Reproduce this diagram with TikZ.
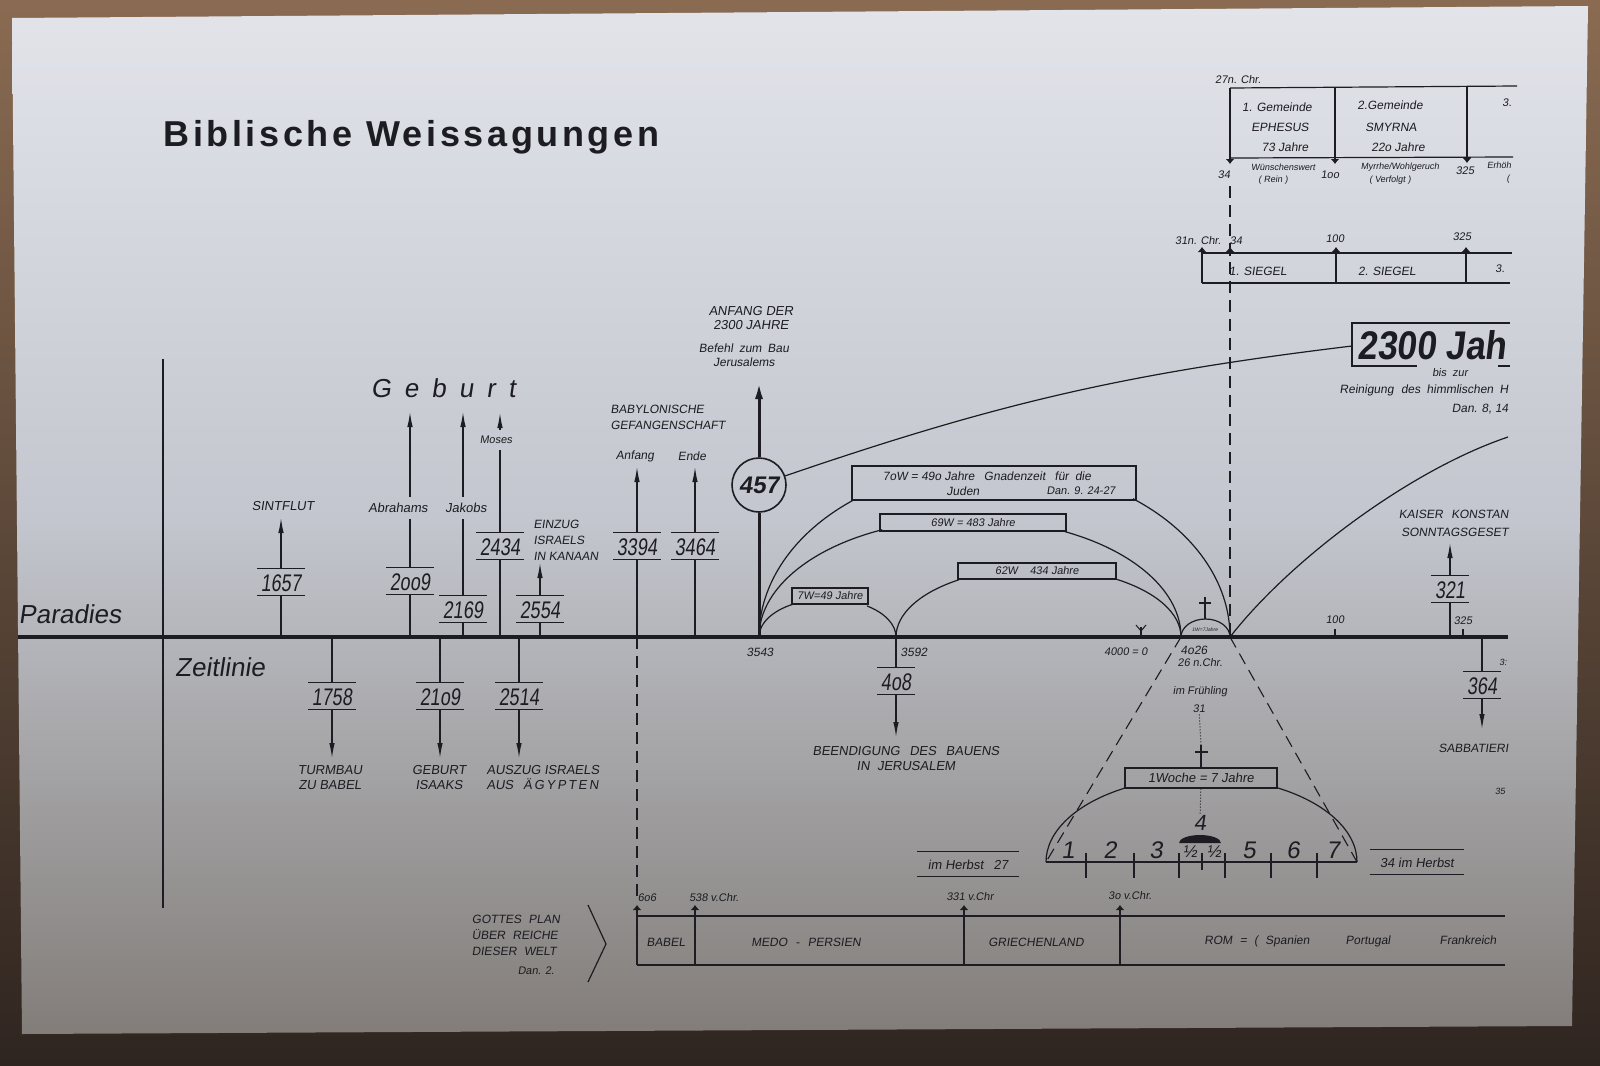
\documentclass[tikz,border=0pt]{standalone}
\usepackage{fontspec}
\setmainfont{Liberation Sans}
\newfontfamily\hand{Liberation Sans}[FakeSlant=0.15]
\newfontfamily\handn{Liberation Sans}[FakeSlant=0.12,FakeStretch=0.75]
\newfontfamily\handb{Liberation Sans}[FakeSlant=0.12,FakeStretch=0.88]
\newfontfamily\ttlfont{Liberation Sans}[LetterSpace=10]
\usetikzlibrary{arrows.meta}
\newcommand\fsz[2]{\fontsize{#1}{#2}\selectfont}
\definecolor{ink}{HTML}{1C1C22}
\definecolor{papertop}{HTML}{E2E4EA}
\definecolor{papermid}{HTML}{C3C6CE}
\definecolor{paperbot}{HTML}{827D79}
\definecolor{bgtop}{HTML}{8A6B52}
\definecolor{bgbot}{HTML}{2F2520}
\tikzset{
  lbl/.style={font=\hand\fsz{13}{15}, inner sep=1pt, align=center, text=ink},
  sml/.style={font=\hand\fsz{11}{13}, inner sep=1pt, align=center, text=ink},
  tinylbl/.style={font=\hand\fsz{9}{10}, inner sep=0.5pt, align=center, text=ink},
  gap/.style={inner ysep=6pt},
  numbox/.style={font=\handn\fsz{24}{24}, text=ink, inner xsep=3pt, inner ysep=3.5pt, text height=18pt, text depth=0pt,
     append after command={(\tikzlastnode.north west) edge[draw=ink,line width=1.1pt] (\tikzlastnode.north east)
                           (\tikzlastnode.south west) edge[draw=ink,line width=1.1pt] (\tikzlastnode.south east)}},
  wbox/.style={draw=ink, line width=1.2pt, inner sep=0pt, font=\hand\fsz{11}{11}},
  arr/.style={-{Latex[length=15pt,width=5.5pt]}},
  sarr/.style={-{Latex[length=5pt,width=9pt]}},
  dashln/.style={draw=ink, line width=1.1pt, dash pattern=on 12pt off 7pt},
}
\begin{document}
\begin{tikzpicture}[x=1pt,y=-1pt,line width=1.2pt,draw=ink,color=ink]
\useasboundingbox (0,0) rectangle (1600,1065);
% background and paper
\shade[top color=bgtop, bottom color=bgbot] (0,0) rectangle (1600,1065);
\shade[top color=papertop, bottom color=paperbot, middle color=papermid] (12,18) -- (1588,6) -- (1572,1026) -- (22,1034) -- cycle;

% title
\node[font=\ttlfont\bfseries\fsz{36}{36}, anchor=west, inner sep=0] (title) at (163,137) {Biblische Weissagungen};

% main axes
\coordinate (tlL) at (18,637); \coordinate (tlR) at (1508,637);
\draw[line width=3.6pt] (tlL) -- (tlR);
\coordinate (vT) at (163,359); \coordinate (vB) at (163,908);
\draw[line width=1.6pt] (vT) -- (vB);
\node[font=\hand\fsz{26}{26}, anchor=west, inner sep=0] (parad) at (18,614) {Paradies};
\node[font=\hand\fsz{26}{26}, inner sep=0] (zeit) at (220,667) {Zeitlinie};

% Geburt
\node[font=\hand\fsz{26}{26}] (geb) at (443,388) {G\hspace{13pt}e\hspace{13pt}b\hspace{13pt}u\hspace{13pt}r\hspace{13pt}t};

% Sintflut
\coordinate (t1657) at (281,637);
\node[numbox] (n1657) at (281,582) {1657};
\coordinate (a1657) at (281,518);
\node[lbl] (l1657) at (283,506) {SINTFLUT};
\draw (t1657) -- (n1657);
\draw[arr] (n1657) -- (a1657);

% Abrahams
\coordinate (t2009) at (410,637);
\node[numbox] (n2009) at (410,581) {2oo9};
\node[lbl,gap] (l2009) at (398,508) {Abrahams};
\coordinate (a2009) at (410,412);
\draw (t2009) -- (n2009);
\draw (n2009) -- (n2009 |- l2009.south);
\draw[arr] (n2009 |- l2009.north) -- (a2009);

% Jakobs
\coordinate (t2169) at (463,637);
\node[numbox] (n2169) at (463,609) {2169};
\node[lbl,gap] (l2169) at (466,508) {Jakobs};
\coordinate (a2169) at (463,412);
\draw (t2169) -- (n2169);
\draw (n2169) -- (n2169 |- l2169.south);
\draw[arr] (n2169 |- l2169.north) -- (a2169);

% Moses
\coordinate (t2434) at (500,637);
\node[numbox] (n2434) at (500,546) {2434};
\node[sml,gap] (l2434) at (496,440) {Moses};
\coordinate (a2434) at (500,413);
\draw (t2434) -- (n2434);
\draw (n2434) -- (n2434 |- l2434.south);
\draw[arr] (n2434 |- l2434.north) -- (a2434);

% Einzug
\coordinate (t2554) at (540,637);
\node[numbox] (n2554) at (540,609) {2554};
\coordinate (a2554) at (540,563);
\draw (t2554) -- (n2554);
\draw[arr] (n2554) -- (a2554);
\node[lbl, font=\hand\fsz{12}{16}, align=left, anchor=west] (l2554) at (532,540) {EINZUG\\ISRAELS\\IN KANAAN};

% below the line
\coordinate (t1758) at (332,637);
\node[numbox] (n1758) at (332,696) {1758};
\coordinate (a1758) at (332,758);
\draw (t1758) -- (n1758);
\draw[arr] (n1758) -- (a1758);
\node[lbl] (l1758) at (330,778) {TURMBAU\\ZU BABEL};

\coordinate (t2109) at (440,637);
\node[numbox] (n2109) at (440,696) {21o9};
\coordinate (a2109) at (440,758);
\draw (t2109) -- (n2109);
\draw[arr] (n2109) -- (a2109);
\node[lbl] (l2109) at (439,778) {GEBURT\\ISAAKS};

\coordinate (t2514) at (519,637);
\node[numbox] (n2514) at (519,696) {2514};
\coordinate (a2514) at (519,758);
\draw (t2514) -- (n2514);
\draw[arr] (n2514) -- (a2514);
\node[lbl, align=left, anchor=west] (l2514) at (485,778) {AUSZUG ISRAELS\\AUS\hspace{10pt}Ä\,G\,Y\,P\,T\,E\,N};

% Babylon
\node[lbl, font=\hand\fsz{12}{16}, align=left, anchor=west] (lBab) at (609,417) {BABYLONISCHE\\GEFANGENSCHAFT};
\coordinate (t3394) at (637,637);
\node[numbox] (n3394) at (637,546) {3394};
\coordinate (a3394) at (637,467);
\node[sml, font=\hand\fsz{12}{12}] (lAnfang) at (635,456) {Anfang};
\draw (t3394) -- (n3394);
\draw[arr] (n3394) -- (a3394);
\coordinate (t3464) at (695,637);
\node[numbox] (n3464) at (695,546) {3464};
\coordinate (a3464) at (695,467);
\node[sml, font=\hand\fsz{12}{12}] (lEnde) at (692,456) {Ende};
\draw (t3464) -- (n3464);
\draw[arr] (n3464) -- (a3464);

% 457
\coordinate (t3543) at (759,637);
\node[circle, draw=ink, line width=1.6pt, minimum size=54pt, inner sep=0pt, font=\hand\bfseries\fsz{24}{24}] (c457) at (759,485) {457};
\coordinate (a457) at (759,382);
\draw[line width=3pt] (t3543) -- (c457);
\draw[line width=3pt, -{Latex[length=17pt,width=8pt]}] (c457) -- (a457);
\node[lbl, font=\hand\fsz{13}{14}] (lAnf) at (751,318) {ANFANG DER\\2300 JAHRE};
\node[lbl, font=\hand\fsz{12}{14}] (lBef) at (744,355) {Befehl\hspace{6pt}zum\hspace{6pt}Bau\\Jerusalems};

% 2300 box
\node[font=\handb\bfseries\fsz{40}{40}, anchor=west, inner sep=0pt] (n2300) at (1357,345) {2300 Jah};
\draw (1510,323) -- (1352,323) -- (1352,366) -- (1417,366);
\draw (1498,366) -- (1510,366);
\coordinate (k2300) at (1352,346);
\draw (c457) to[bend left=6] (k2300);
\node[sml] (lbis) at (1450,373) {bis\hspace{6pt}zur};
\node[lbl, font=\hand\fsz{12}{12}, anchor=east] (lRein) at (1510,390) {Reinigung\hspace{4pt} des\hspace{3pt} himmlischen\hspace{3pt} H};
\node[lbl, font=\hand\fsz{12}{12}, anchor=east] (lDan8) at (1510,409) {Dan. 8, 14};

% week arches
\coordinate (t3592) at (896,637);
\coordinate (t4026) at (1181,637);
\coordinate (t34) at (1230,637);
\node[wbox, minimum width=76pt, minimum height=16pt] (b7) at (830,596) {7W=49 Jahre};
\draw (t3543) arc[start angle=180, end angle=119.3, x radius=68.5pt, y radius=38pt];
\draw (t3592) arc[start angle=0, end angle=54.8, x radius=68.5pt, y radius=38pt];
\node[wbox, minimum width=158pt, minimum height=16pt] (b62) at (1037,571) {62W\hspace{12pt}434 Jahre};
\draw (t3592) arc[start angle=180, end angle=123.9, x radius=142.5pt, y radius=69pt];
\draw (t4026) arc[start angle=0, end angle=57.5, x radius=142.5pt, y radius=69pt];
\node[wbox, minimum width=186pt, minimum height=17pt] (b69) at (973,522.5) {69W = 483 Jahre};
\draw (t3543) arc[start angle=180, end angle=114.6, x radius=211pt, y radius=118pt];
\draw (t4026) arc[start angle=0, end angle=63.3, x radius=211pt, y radius=118pt];
\node[wbox, minimum width=284pt, minimum height=34pt] (b70) at (994,483) {};
\node[sml, font=\hand\fsz{12}{12}] (b70a) at (987,476) {7oW = 49o Jahre\hspace{6pt} Gnadenzeit\hspace{6pt} für\hspace{3pt} die};
\node[sml, font=\hand\fsz{12}{12}] (b70b) at (963,491) {Juden};
\node[sml, font=\hand\fsz{11}{11}] (b70c) at (1081,491) {Dan. 9. 24-27};
\draw (t3543) arc[start angle=180, end angle=126.9, x radius=235.5pt, y radius=171pt];
\draw (t34) arc[start angle=0, end angle=54, x radius=235.5pt, y radius=171pt];
% small arch 1W
\draw (t4026) arc[start angle=180, end angle=0, x radius=24.5pt, y radius=18pt];
\draw (1205,619) -- (1205,597);
\draw (1199,603) -- (1211,603);
\node[font=\hand\fsz{5}{5}, inner sep=0pt] (l1w) at (1205,630) {1W=7Jahre};
% right curve
\coordinate (rEnd) at (1508,437);
\draw (t34) .. controls (1290,560) and (1410,470) .. (rEnd);

% timeline labels
\node[sml, font=\hand\fsz{12}{12}] (l3543) at (760,652) {3543};
\node[sml, font=\hand\fsz{12}{12}] (l3592) at (914,652) {3592};
\node[sml] (l4000) at (1126,652) {4000 = 0};
\draw (1141,637) -- (1141,627);
\draw[line width=1pt] (1136,625) -- (1141,631) -- (1146,625);
\node[sml, font=\hand\fsz{12}{12}] (l4026) at (1194,650) {4o26};
\node[sml] (l26) at (1200,663) {26 n.Chr.};

% 408
\node[numbox] (n408) at (896,681) {4o8};
\coordinate (a408) at (896,737);
\draw (t3592) -- (n408);
\draw[arr] (n408) -- (a408);
\node[lbl] (l408) at (906,759) {BEENDIGUNG\hspace{6pt} DES\hspace{6pt} BAUENS\\IN\hspace{4pt} JERUSALEM};

% 100 / 325 / 321 / 364
\draw (1335,637) -- (1335,629);
\node[sml] (l100) at (1335,620) {100};
\draw (1463,637) -- (1463,629);
\node[sml] (l325) at (1463,621) {325};
\coordinate (t321) at (1450,637);
\node[numbox] (n321) at (1450,589) {321};
\coordinate (a321) at (1450,543);
\draw (t321) -- (n321);
\draw[arr] (n321) -- (a321);
\node[lbl, font=\hand\fsz{12}{12}, anchor=east] (lKais) at (1510,514) {KAISER\hspace{5pt} KONSTAN};
\node[lbl, font=\hand\fsz{12}{12}, anchor=east] (lSonn) at (1510,532) {SONNTAGSGESET};
\coordinate (t364) at (1482,637);
\node[numbox] (n364) at (1482,685) {364};
\coordinate (a364) at (1482,729);
\draw (t364) -- (n364);
\draw[arr] (n364) -- (a364);
\node[tinylbl] (l3c) at (1503,662) {3:};
\node[lbl, font=\hand\fsz{12}{12}, anchor=east] (lSabb) at (1510,748) {SABBATIERI};
\node[tinylbl] (l35) at (1500,791) {35};

% dashed lines
\coordinate (dTop) at (1230,186);
\draw[dashln] (dTop) -- (t34);
\coordinate (wL) at (1046,862);
\coordinate (wR) at (1357,862);
\draw[dashln] (t4026) -- (wL);
\draw[dashln] (t34) -- (wR);

% one week detail
\draw (wL) -- (wR);
\node[wbox, minimum width=152pt, minimum height=20pt, font=\hand\fsz{13}{13}] (bW) at (1201,778) {1Woche = 7 Jahre};
\draw (wL) arc[start angle=180, end angle=119.5, x radius=155.5pt, y radius=85pt];
\draw (wR) arc[start angle=0, end angle=60.9, x radius=155.5pt, y radius=85pt];
\foreach \x in {1086,1134,1179,1225,1271,1317} \draw (\x,853) -- (\x,878);
\draw (1202,853) -- (1202,870);
\foreach \x/\t in {1068/1,1110/2,1156/3,1249/5,1293/6,1333/7}
  \node[font=\hand\fsz{24}{24}, inner sep=0pt] (wn\t) at (\x,850) {\t};
\node[font=\hand\fsz{17}{17}, inner sep=0pt] (wh1) at (1190,852) {½};
\node[font=\hand\fsz{17}{17}, inner sep=0pt] (wh2) at (1214,852) {½};
\fill (1179,843) arc[start angle=180, end angle=0, x radius=21pt, y radius=8pt] -- cycle;
\node[font=\hand\fsz{22}{22}, inner sep=1pt] (w4) at (1200,823) {4};
\node[sml] (lFr) at (1200,692) {im Frühling};
\node[sml] (l31) at (1199,709) {31};
\coordinate (crT) at (1201,745);
\draw[dotted, line width=1pt] (l31) -- (crT);
\draw (crT) -- (bW);
\draw (1195,752) -- (1208,752);
\draw[dotted, line width=1pt] (bW) -- (w4);
\node[numbox, font=\hand\fsz{13}{13}, text height=10pt, inner ysep=7pt, inner xsep=10pt] (h27) at (968,864) {im Herbst\hspace{10pt}27};
\node[numbox, font=\hand\fsz{13}{13}, text height=10pt, inner ysep=7pt, inner xsep=10pt] (h34) at (1417,862) {34 im Herbst};

% Gemeinde box
\draw (1230,88) -- (1517,86);
\draw (1230,158) -- (1513,157);
\draw[sarr] (1230,88) -- (1230,164);
\draw[sarr] (1335,88) -- (1335,164);
\draw[sarr] (1467,86) -- (1467,163);
\node[sml] (g27) at (1238,80) {27n. Chr.};
\node[lbl, font=\hand\fsz{12}{12}] (g1a) at (1277,107) {1. Gemeinde};
\node[lbl, font=\hand\fsz{12}{12}] (g1b) at (1280,127) {EPHESUS};
\node[lbl, font=\hand\fsz{12}{12}] (g1c) at (1285,147) {73 Jahre};
\node[lbl, font=\hand\fsz{12}{12}] (g2a) at (1390,105) {2.Gemeinde};
\node[lbl, font=\hand\fsz{12}{12}] (g2b) at (1391,127) {SMYRNA};
\node[lbl, font=\hand\fsz{12}{12}] (g2c) at (1398,147) {22o Jahre};
\node[sml] (g3a) at (1507,103) {3.};
\node[sml] (g34) at (1224,175) {34};
\node[tinylbl] (gw1) at (1283,167) {Wünschenswert};
\node[tinylbl] (gw2) at (1273,180) {( Rein )};
\node[sml] (g100) at (1330,175) {1oo};
\node[tinylbl] (gm1) at (1400,167) {Myrrhe/Wohlgeruch};
\node[tinylbl] (gm2) at (1390,180) {( Verfolgt )};
\node[sml] (g325) at (1465,171) {325};
\node[tinylbl] (ge1) at (1499,165) {Erhöh};
\node[tinylbl] (ge2) at (1508,179) {(};

% Siegel box
\draw (1202,253) -- (1512,253);
\draw (1202,283) -- (1510,283);
\draw[sarr] (1202,283) -- (1202,247);
\draw[sarr] (1336,283) -- (1336,247);
\draw[sarr] (1466,283) -- (1466,247);
\draw[sarr] (1230,256) -- (1230,247);
\node[sml] (s31) at (1198,241) {31n. Chr.};
\node[sml] (s34) at (1236,241) {34};
\node[sml] (s100) at (1335,239) {100};
\node[sml] (s325) at (1462,237) {325};
\node[lbl, font=\hand\fsz{12}{12}] (s1) at (1258,271) {1. SIEGEL};
\node[lbl, font=\hand\fsz{12}{12}] (s2) at (1387,271) {2. SIEGEL};
\node[sml] (s3) at (1500,269) {3.};

% bottom bar
\node[lbl, font=\hand\fsz{12}{16}, align=left] (gp) at (516,935) {GOTTES\hspace{4pt} PLAN\\ÜBER\hspace{4pt} REICHE\\DIESER\hspace{4pt} WELT};
\node[sml] (gpd) at (536,971) {Dan. 2.};
\draw (588,905) -- (606,944) -- (588,982);
\coordinate (d606) at (637,903);
\draw[dashln] (t3394) -- (d606);
\draw (637,916) -- (1505,916);
\draw (637,965) -- (1505,965);
\foreach \x in {637,695,964,1120} \draw[sarr] (\x,965) -- (\x,905);
\node[sml] (r606) at (647,898) {6o6};
\node[sml] (r538) at (714,898) {538 v.Chr.};
\node[sml] (r331) at (970,897) {331 v.Chr};
\node[sml] (r30) at (1130,896) {3o v.Chr.};
\node[lbl, font=\hand\fsz{12}{12}] (rBab) at (666,942) {BABEL};
\node[lbl, font=\hand\fsz{12}{12}] (rMed) at (806,942) {MEDO\hspace{5pt} -\hspace{5pt} PERSIEN};
\node[lbl, font=\hand\fsz{12}{12}] (rGri) at (1036,942) {GRIECHENLAND};
\node[lbl, font=\hand\fsz{12}{12}] (rRom) at (1257,941) {ROM\hspace{4pt} =\hspace{4pt} (\hspace{4pt} Spanien};
\node[lbl, font=\hand\fsz{12}{12}] (rPor) at (1368,941) {Portugal};
\node[lbl, font=\hand\fsz{12}{12}] (rFra) at (1468,940) {Frankreich};
\end{tikzpicture}
\end{document}
